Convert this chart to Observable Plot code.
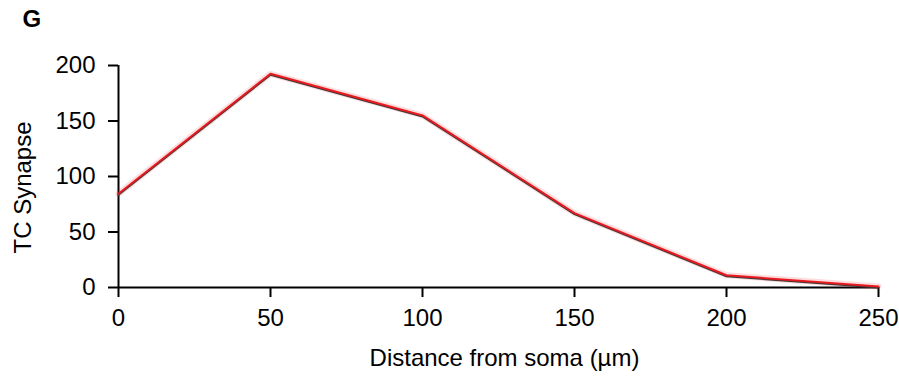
<!DOCTYPE html>
<html>
<head>
<meta charset="utf-8">
<script src="https://cdn.jsdelivr.net/npm/d3@7"></script>
<script src="https://cdn.jsdelivr.net/npm/@observablehq/plot@0.6"></script>
<style>
  html, body { margin: 0; padding: 0; background: #fff; }
</style>
</head>
<body>
<div id="wrap" style="width:899px;height:381px;"></div>
<script>
const panelLetter = "G";
const distances = [0, 50, 100, 150, 200, 250];
const synapses = [84.5, 192.5, 155, 67, 11, 1];
const xTicks = [0, 50, 100, 150, 200, 250];
const yTicks = [0, 50, 100, 150, 200];
const xLabel = "Distance from soma (µm)";
const yLabel = "TC Synapse";

const data = distances.map((d, i) => ({distance: d, synapse: synapses[i]}));

const chart = Plot.plot({
  width: 899,
  height: 381,
  marginLeft: 118,
  marginRight: 21,
  marginTop: 65,
  marginBottom: 94,
  style: {fontFamily: '"Liberation Sans", Arial, sans-serif', background: "#fff", color: "#000"},
  x: {domain: [0, 250]},
  y: {domain: [0, 200]},
  marks: [
    Plot.axisY({ticks: yTicks, tickSize: 10, tickPadding: 13, fontSize: 24, label: null, strokeWidth: 2}),
    Plot.axisX({ticks: xTicks, tickSize: 10, tickPadding: 11, fontSize: 24, label: null, strokeWidth: 2}),
    Plot.ruleX([0], {y1: 0, y2: 200, stroke: "#000", strokeWidth: 2}),
    Plot.ruleY([0], {x1: 0, x2: 250, stroke: "#000", strokeWidth: 2}),
    Plot.line(data, {x: "distance", y: "synapse", stroke: "#e8191f", strokeOpacity: 0.15, strokeWidth: 6}),
    Plot.line(data, {x: "distance", y: "synapse", stroke: "#3a3a3a", strokeWidth: 2, dy: 1}),
    Plot.line(data, {x: "distance", y: "synapse", stroke: "#e8191f", strokeWidth: 2}),
    Plot.text([yLabel], {frameAnchor: "left", rotate: -90, lineAnchor: "top", textAnchor: "middle", fontSize: 24, dx: -105, dy: 11, fill: "#000"}),
    Plot.text([xLabel], {frameAnchor: "bottom", lineAnchor: "top", textAnchor: "middle", fontSize: 24, dx: 6, dy: 61, fill: "#000"}),
    Plot.text([panelLetter], {frameAnchor: "top-left", lineAnchor: "top", textAnchor: "start", fontSize: 24, fontWeight: "bold", dx: -96, dy: -56, fill: "#000"})
  ]
});
document.getElementById("wrap").appendChild(chart);
</script>
</body>
</html>
